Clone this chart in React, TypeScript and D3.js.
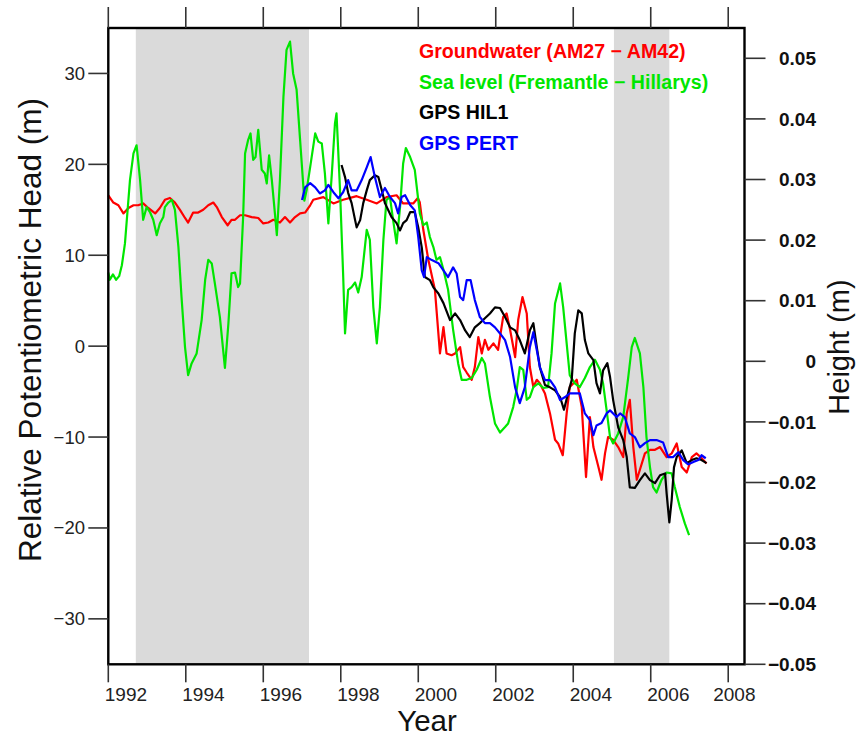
import * as d3 from "d3";

// Groundwater (AM27 - AM42), relative head in m (left axis)
const groundwater: [number, number][] = [
  [1992.0, 16.6], [1992.13, 15.8], [1992.26, 15.5], [1992.39, 14.6], [1992.52, 15.2], [1992.65, 15.5],
  [1992.77, 15.5], [1992.9, 15.7], [1993.03, 15.2], [1993.21, 14.6], [1993.33, 15.2], [1993.46, 16.1],
  [1993.59, 16.3], [1993.72, 15.8], [1993.85, 15.0], [1993.98, 14.1], [1994.06, 13.6], [1994.19, 14.7],
  [1994.32, 14.7], [1994.45, 15.0], [1994.58, 15.5], [1994.71, 15.8], [1994.8, 15.3], [1994.93, 14.2],
  [1995.08, 13.3], [1995.18, 13.9], [1995.27, 13.9], [1995.4, 14.4], [1995.53, 14.4], [1995.7, 14.2],
  [1995.87, 14.1], [1996.0, 13.5], [1996.13, 13.6], [1996.26, 13.9], [1996.43, 13.6], [1996.56, 14.2],
  [1996.69, 13.6], [1996.82, 14.2], [1996.95, 14.6], [1997.08, 14.7], [1997.21, 15.5], [1997.29, 16.1],
  [1997.55, 16.4], [1997.81, 15.7], [1998.06, 16.1], [1998.41, 16.5], [1998.67, 16.1], [1998.93, 15.7],
  [1999.18, 16.4], [1999.44, 16.6], [1999.61, 15.7], [1999.87, 15.7], [1999.99, 16.3], [2000.04, 15.8],
  [2000.13, 12.8], [2000.26, 9.5], [2000.43, 6.2], [2000.56, -0.8], [2000.65, 2.1], [2000.73, -0.8],
  [2000.86, -1.0], [2000.95, -0.8], [2001.08, -0.1], [2001.16, -2.3], [2001.25, -2.9], [2001.38, -3.7],
  [2001.46, -2.3], [2001.55, 1.0], [2001.64, -0.8], [2001.72, 0.7], [2001.81, -0.4], [2001.94, 0.3],
  [2002.06, -0.4], [2002.19, 3.2], [2002.28, 3.6], [2002.37, 1.8], [2002.5, -1.2], [2002.58, 2.9],
  [2002.69, 5.4], [2002.8, 3.6], [2002.88, -2.3], [2002.97, -4.5], [2003.06, -3.7], [2003.14, -4.1],
  [2003.27, -5.2], [2003.4, -7.4], [2003.53, -10.3], [2003.61, -10.7], [2003.73, -12.0], [2003.83, -7.4],
  [2003.91, -4.5], [2004.0, -4.1], [2004.09, -3.7], [2004.22, -6.7], [2004.33, -14.4], [2004.43, -7.8],
  [2004.52, -11.1], [2004.65, -13.3], [2004.73, -14.7], [2004.82, -11.8], [2004.9, -10.0], [2005.03, -10.3],
  [2005.16, -11.1], [2005.29, -12.2], [2005.38, -7.4], [2005.46, -5.9], [2005.55, -11.1], [2005.64, -14.7],
  [2005.72, -13.6], [2005.85, -11.8], [2005.98, -11.4], [2006.11, -11.4], [2006.24, -11.1], [2006.41, -12.2],
  [2006.54, -11.8], [2006.67, -10.7], [2006.8, -13.3], [2006.93, -13.9], [2007.06, -12.2], [2007.18, -11.8],
  [2007.31, -12.3], [2007.44, -12.9],
];

// Sea level (Fremantle - Hillarys), left axis
const seaLevel: [number, number][] = [
  [1992.0, 8.1], [1992.04, 7.3], [1992.12, 7.9], [1992.2, 7.3], [1992.28, 7.7], [1992.35, 8.9],
  [1992.43, 11.3], [1992.56, 18.3], [1992.65, 21.2], [1992.73, 22.1], [1992.82, 18.3], [1992.9, 13.9],
  [1992.99, 15.3], [1993.08, 14.7], [1993.16, 13.9], [1993.25, 12.2], [1993.33, 13.5], [1993.42, 14.2],
  [1993.46, 15.3], [1993.55, 15.8], [1993.64, 16.1], [1993.72, 15.0], [1993.81, 10.9], [1993.89, 5.4],
  [1993.98, -0.1], [1994.06, -3.2], [1994.15, -1.9], [1994.28, -0.8], [1994.41, 2.9], [1994.5, 7.3],
  [1994.58, 9.5], [1994.67, 9.1], [1994.75, 6.9], [1994.88, 3.2], [1995.01, -2.4], [1995.1, 2.5],
  [1995.18, 8.0], [1995.27, 8.1], [1995.35, 6.5], [1995.4, 6.9], [1995.48, 14.2], [1995.53, 21.2],
  [1995.61, 22.7], [1995.67, 23.4], [1995.74, 20.5], [1995.8, 20.8], [1995.87, 23.8], [1995.96, 19.4],
  [1996.04, 19.0], [1996.09, 17.9], [1996.15, 21.0], [1996.22, 18.3], [1996.3, 14.6], [1996.35, 12.2],
  [1996.43, 18.3], [1996.52, 27.4], [1996.6, 32.6], [1996.69, 33.5], [1996.77, 30.0], [1996.86, 28.2],
  [1996.95, 22.7], [1997.06, 16.0], [1997.12, 17.2], [1997.21, 19.7], [1997.34, 23.4], [1997.42, 22.5],
  [1997.51, 22.3], [1997.59, 19.0], [1997.68, 13.5], [1997.77, 19.0], [1997.85, 24.5], [1997.89, 25.6],
  [1997.98, 17.2], [1998.06, 8.0], [1998.11, 1.4], [1998.19, 6.2], [1998.28, 6.5], [1998.37, 7.0],
  [1998.45, 5.9], [1998.54, 7.6], [1998.67, 12.8], [1998.75, 11.7], [1998.84, 4.3], [1998.93, 0.3],
  [1999.01, 4.3], [1999.1, 11.7], [1999.18, 16.1], [1999.27, 16.4], [1999.35, 13.9], [1999.44, 11.3],
  [1999.53, 15.3], [1999.61, 20.1], [1999.68, 21.8], [1999.79, 20.8], [1999.91, 19.4], [2000.04, 14.6],
  [2000.13, 13.3], [2000.22, 13.6], [2000.3, 12.0], [2000.39, 10.9], [2000.47, 9.5], [2000.56, 9.8],
  [2000.65, 8.4], [2000.77, 6.2], [2000.9, 1.8], [2001.03, -1.9], [2001.12, -3.7], [2001.25, -3.7],
  [2001.38, -3.5], [2001.51, -2.6], [2001.64, -1.3], [2001.72, -1.9], [2001.85, -5.6], [2001.98, -8.5],
  [2002.11, -9.5], [2002.24, -8.9], [2002.32, -8.5], [2002.45, -6.7], [2002.54, -4.8], [2002.62, -2.3],
  [2002.71, -2.6], [2002.8, -5.9], [2002.88, -5.6], [2002.97, -4.5], [2003.1, -4.1], [2003.23, -4.6],
  [2003.35, -4.5], [2003.44, -0.8], [2003.53, 4.7], [2003.66, 6.9], [2003.74, 4.3], [2003.83, 0.3],
  [2003.91, -3.2], [2004.04, -4.1], [2004.17, -4.5], [2004.3, -3.5], [2004.43, -2.3], [2004.56, -1.5],
  [2004.69, -2.6], [2004.77, -4.1], [2004.86, -7.0], [2004.95, -10.0], [2005.03, -10.7], [2005.16, -9.6],
  [2005.29, -7.8], [2005.42, -3.4], [2005.51, -0.1], [2005.59, 0.9], [2005.72, -0.8], [2005.81, -4.5],
  [2005.89, -10.0], [2005.98, -13.3], [2006.06, -15.5], [2006.15, -16.1], [2006.28, -14.7], [2006.41, -13.9],
  [2006.54, -14.0], [2006.62, -15.5], [2006.75, -17.7], [2006.88, -19.5], [2006.99, -20.8],
];

// GPS HIL1 height in m (right axis)
const gpsHil1: [number, number][] = [
  [1998.02, 0.0324], [1998.11, 0.0304], [1998.19, 0.0278], [1998.28, 0.0261], [1998.37, 0.0233],
  [1998.41, 0.0221], [1998.5, 0.0233], [1998.58, 0.0261], [1998.67, 0.0282], [1998.75, 0.0299],
  [1998.88, 0.0307], [1998.97, 0.0304], [1999.06, 0.0282], [1999.14, 0.0261], [1999.23, 0.0249],
  [1999.31, 0.0238], [1999.44, 0.0228], [1999.53, 0.0216], [1999.61, 0.0228], [1999.7, 0.0233],
  [1999.79, 0.0246], [1999.91, 0.0246], [2000.0, 0.0221], [2000.09, 0.0188], [2000.17, 0.0139],
  [2000.3, 0.0134], [2000.39, 0.0122], [2000.52, 0.0112], [2000.65, 0.0096], [2000.82, 0.0068],
  [2000.95, 0.0079], [2001.08, 0.0068], [2001.21, 0.0051], [2001.33, 0.004], [2001.46, 0.0056],
  [2001.59, 0.0063], [2001.72, 0.0071], [2001.85, 0.0079], [2001.98, 0.0089], [2002.11, 0.0088],
  [2002.24, 0.0073], [2002.37, 0.0056], [2002.5, 0.0051], [2002.62, 0.0035], [2002.75, 0.0013],
  [2002.88, 0.0051], [2002.97, 0.0063], [2003.06, 0.0023], [2003.14, -0.001], [2003.27, -0.0039],
  [2003.4, -0.0043], [2003.53, -0.0048], [2003.66, -0.0059], [2003.76, -0.008], [2003.87, -0.0052],
  [2003.96, -0.0031], [2004.04, 0.0046], [2004.13, 0.0084], [2004.22, 0.0079], [2004.3, 0.0035],
  [2004.39, 0.0013], [2004.52, 0.0002], [2004.6, -0.0036], [2004.69, -0.0053], [2004.77, -0.0015],
  [2004.88, -0.0003], [2004.95, -0.0026], [2005.03, -0.0064], [2005.16, -0.0109], [2005.29, -0.013],
  [2005.38, -0.0158], [2005.46, -0.0208], [2005.59, -0.0209], [2005.72, -0.0196], [2005.85, -0.0185],
  [2005.98, -0.0196], [2006.11, -0.0201], [2006.24, -0.0188], [2006.37, -0.0185], [2006.41, -0.0218],
  [2006.48, -0.0266], [2006.54, -0.0229], [2006.6, -0.0175], [2006.67, -0.0158], [2006.8, -0.0147],
  [2006.93, -0.0168], [2007.06, -0.0163], [2007.18, -0.016], [2007.31, -0.0163], [2007.44, -0.0168],
];

// GPS PERT height in m (right axis)
const gpsPert: [number, number][] = [
  [1997.0, 0.0266], [1997.08, 0.0287], [1997.21, 0.0294], [1997.34, 0.0287], [1997.46, 0.0277],
  [1997.59, 0.0282], [1997.68, 0.0291], [1997.81, 0.0279], [1997.94, 0.0269], [1998.06, 0.0279],
  [1998.19, 0.0299], [1998.28, 0.0282], [1998.41, 0.0282], [1998.54, 0.0299], [1998.67, 0.032],
  [1998.77, 0.0337], [1998.88, 0.0304], [1999.01, 0.0271], [1999.14, 0.0286], [1999.27, 0.0271],
  [1999.4, 0.0261], [1999.48, 0.0244], [1999.57, 0.0271], [1999.66, 0.0274], [1999.79, 0.0258],
  [1999.91, 0.0249], [2000.0, 0.0205], [2000.09, 0.015], [2000.15, 0.0139], [2000.22, 0.0172],
  [2000.35, 0.0167], [2000.52, 0.0162], [2000.65, 0.015], [2000.77, 0.0139], [2000.9, 0.0155],
  [2000.99, 0.0145], [2001.08, 0.0106], [2001.16, 0.0101], [2001.25, 0.0134], [2001.35, 0.0134],
  [2001.46, 0.0101], [2001.59, 0.0073], [2001.72, 0.0063], [2001.85, 0.0063], [2001.98, 0.0056],
  [2002.11, 0.0046], [2002.24, 0.0035], [2002.37, 0.0007], [2002.5, -0.0043], [2002.62, -0.0069],
  [2002.75, -0.0043], [2002.88, 0.0023], [2002.97, 0.0048], [2003.06, 0.0018], [2003.14, -0.001],
  [2003.27, -0.0031], [2003.4, -0.0031], [2003.53, -0.0043], [2003.66, -0.0064], [2003.79, -0.0059],
  [2003.91, -0.0053], [2004.04, -0.0053], [2004.17, -0.0053], [2004.3, -0.0086], [2004.43, -0.0097],
  [2004.52, -0.0122], [2004.6, -0.0106], [2004.73, -0.0102], [2004.86, -0.0086], [2004.95, -0.0081],
  [2005.03, -0.0086], [2005.12, -0.0092], [2005.21, -0.0086], [2005.33, -0.0092], [2005.46, -0.0119],
  [2005.59, -0.0125], [2005.72, -0.0142], [2005.85, -0.0135], [2005.98, -0.013], [2006.15, -0.013],
  [2006.32, -0.0134], [2006.45, -0.0158], [2006.58, -0.0158], [2006.71, -0.015], [2006.84, -0.0163],
  [2006.97, -0.017], [2007.1, -0.0166], [2007.23, -0.0163], [2007.31, -0.0155], [2007.42, -0.016],
];

// shaded periods (years)
const shadedPeriods: [number, number][] = [[1992.71, 1997.18], [2005.05, 2006.48]];

const yearTicks = [1992, 1994, 1996, 1998, 2000, 2002, 2004, 2006, 2008];
const headTicks = [-30, -20, -10, 0, 10, 20, 30];
const heightTicks = [-0.05, -0.04, -0.03, -0.02, -0.01, 0, 0.01, 0.02, 0.03, 0.04, 0.05];

const legendLabels = [
  "Groundwater (AM27 \u2212 AM42)",
  "Sea level (Fremantle \u2212 Hillarys)",
  "GPS HIL1",
  "GPS PERT",
];
const seriesColors = ["#ff0000", "#00e600", "#000000", "#0000ff"];

const W = 861;
const H = 738;
const FONT = "'Liberation Sans', Arial, Helvetica, sans-serif";

export default function App() {
  const left = 108.3, right = 744.5, top = 28, bottom = 664.3;

  const x = d3.scaleLinear().domain([1992, 2008.42]).range([left, right]);
  const yL = d3.scaleLinear().domain([-35, 35]).range([bottom, top]);
  const yR = d3.scaleLinear().domain([-0.05, 0.055]).range([bottom, top]);

  const lineL = d3.line<[number, number]>().x(d => x(d[0])).y(d => yL(d[1]));
  const lineR = d3.line<[number, number]>().x(d => x(d[0])).y(d => yR(d[1]));

  const fmtL = d3.format("d");
  const fmtR = (v: number) => (Math.abs(v) < 1e-9 ? "0" : d3.format(".2f")(v));

  const tickColor = "#333";

  return (
    <svg width={W} height={H} style={{ position: "absolute", left: 0, top: 0, background: "#fff" }}
      fontFamily={FONT}>
      <rect width={W} height={H} fill="#fff" />
      {shadedPeriods.map(([a, b], i) => (
        <rect key={i} x={x(a)} y={top} width={x(b) - x(a)} height={bottom - top} fill="#dadada" />
      ))}

      <g fill="none" strokeWidth={2.2} strokeLinejoin="round">
        <path d={lineL(groundwater) ?? ""} stroke={seriesColors[0]} />
        <path d={lineL(seaLevel) ?? ""} stroke={seriesColors[1]} />
        <path d={lineR(gpsHil1) ?? ""} stroke={seriesColors[2]} />
        <path d={lineR(gpsPert) ?? ""} stroke={seriesColors[3]} />
      </g>

      {/* frame */}
      <rect x={left} y={top} width={right - left} height={bottom - top} fill="none" stroke="#000" strokeWidth={2.4} />

      {/* x ticks, bottom and top */}
      {yearTicks.map(t => (
        <g key={t}>
          <line x1={x(t)} x2={x(t)} y1={bottom} y2={bottom + 18} stroke={tickColor} strokeWidth={1.6} />
          <line x1={x(t)} x2={x(t)} y1={top} y2={top - 21} stroke={tickColor} strokeWidth={1.6} />
          <text x={x(t) + (t === 2008 ? -15 : -3.5)} y={701} fontSize={19} fill="#222">{t}</text>
        </g>
      ))}

      {/* left axis */}
      {headTicks.map(t => (
        <g key={t}>
          <line x1={left - 20} x2={left} y1={yL(t)} y2={yL(t)} stroke={tickColor} strokeWidth={1.6} />
          <text x={85} y={yL(t)} dy="0.35em" textAnchor="end" fontSize={18.5} fill="#222">{fmtL(t)}</text>
        </g>
      ))}

      {/* right axis */}
      {heightTicks.map(t => (
        <g key={t}>
          <line x1={right} x2={right + 21} y1={yR(t)} y2={yR(t)} stroke={tickColor} strokeWidth={1.6} />
          <text x={816} y={yR(t)} dy="0.35em" textAnchor="end" fontSize={19} fontWeight="bold" fill="#111">{fmtR(t)}</text>
        </g>
      ))}

      {/* axis titles */}
      <text transform={`translate(41,330) rotate(-90)`} textAnchor="middle" fontSize={31.5} fill="#111">
        Relative Potentiometric Head (m)
      </text>
      <text transform={`translate(849,347) rotate(-90)`} textAnchor="middle" fontSize={29} fill="#111">
        Height (m)
      </text>
      <text x={427} y={731} textAnchor="middle" fontSize={29.5} fill="#111">Year</text>

      {/* legend */}
      {legendLabels.map((l, i) => (
        <text key={l} x={419} y={58 + i * 30.6} fontSize={19.6} fontWeight="bold" fill={seriesColors[i]}>{l}</text>
      ))}
    </svg>
  );
}
